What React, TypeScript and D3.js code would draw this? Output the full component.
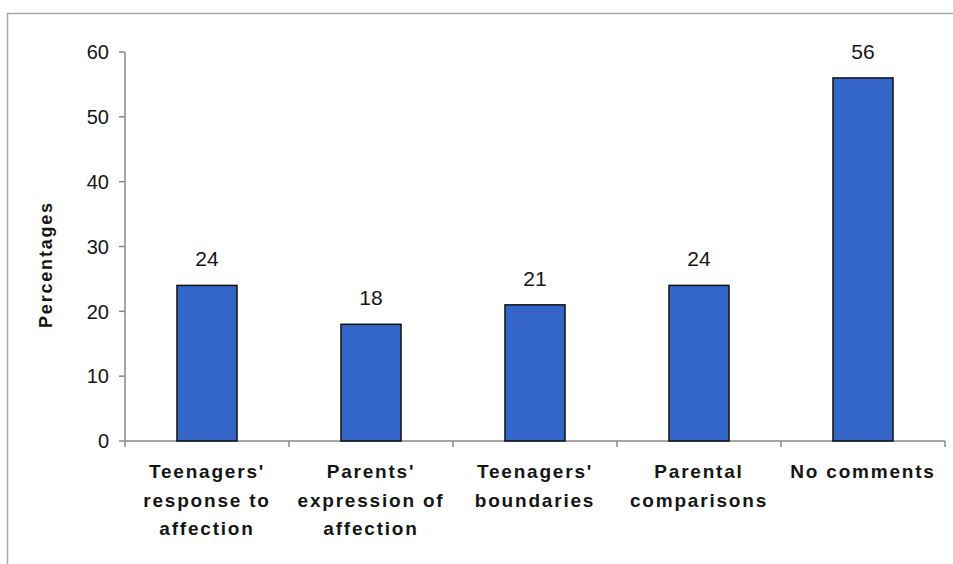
import React from 'react';
import * as d3 from 'd3';

const categories = [
  ["Teenagers'", 'response to', 'affection'],
  ["Parents'", 'expression of', 'affection'],
  ["Teenagers'", 'boundaries'],
  ['Parental', 'comparisons'],
  ['No comments'],
];
const values = [24, 18, 21, 24, 56];
const yTicks = [0, 10, 20, 30, 40, 50, 60];

const W = 953;
const H = 564;
const margin = { top: 52, right: 8, bottom: 123, left: 125 };

export default function App() {
  const keys = categories.map((c) => c.join(' '));
  const x = d3
    .scaleBand()
    .domain(keys)
    .range([margin.left, W - margin.right]);
  const y = d3
    .scaleLinear()
    .domain([0, 60])
    .range([H - margin.bottom, margin.top]);

  const barW = x.bandwidth() * 0.366;
  const y0 = y(0);
  const font = 'Arial, "Liberation Sans", sans-serif';

  return (
    <svg
      width={W}
      height={H}
      style={{ position: 'absolute', left: 0, top: 0, background: '#fff' }}
      fontFamily={font}
    >
      {/* outer frame */}
      <path d={`M7.5,${H} V13.5 H${W}`} fill="none" stroke="#a8a8a8" strokeWidth={1.5} />

      {/* y axis */}
      <line x1={margin.left} x2={margin.left} y1={y(60)} y2={y0} stroke="#888" strokeWidth={1.5} />
      {yTicks.map((t) => (
        <g key={t}>
          <line x1={margin.left - 6} x2={margin.left} y1={y(t)} y2={y(t)} stroke="#888" strokeWidth={1.5} />
          <text x={109} y={y(t)} dy="0.36em" textAnchor="end" fontSize={20} fill="#151515">
            {t}
          </text>
        </g>
      ))}

      {/* x axis */}
      <line x1={margin.left} x2={W - margin.right} y1={y0} y2={y0} stroke="#888" strokeWidth={1.5} />
      {keys.map((k) => (
        <line key={k} x1={x(k)} x2={x(k)} y1={y0} y2={y0 + 6} stroke="#888" strokeWidth={1.5} />
      ))}
      <line x1={W - margin.right} x2={W - margin.right} y1={y0} y2={y0 + 6} stroke="#888" strokeWidth={1.5} />

      {/* bars */}
      {values.map((v, i) => {
        const cx = (x(keys[i]) as number) + x.bandwidth() / 2;
        return (
          <g key={i}>
            <rect
              x={cx - barW / 2}
              y={y(v)}
              width={barW}
              height={y0 - y(v)}
              fill="#3366c8"
              stroke="#111"
              strokeWidth={1.5}
            />
            <text x={cx} y={y(v) - 19} textAnchor="middle" fontSize={21} fill="#151515">
              {v}
            </text>
          </g>
        );
      })}

      {/* category labels */}
      {categories.map((lines, i) => {
        const cx = (x(keys[i]) as number) + x.bandwidth() / 2;
        return (
          <text
            key={i}
            x={cx}
            y={478}
            textAnchor="middle"
            fontSize={19}
            fontWeight="bold"
            letterSpacing={1.8}
            fill="#151515"
          >
            {lines.map((l, j) => (
              <tspan key={j} x={cx} y={478 + j * 28.5}>
                {l}
              </tspan>
            ))}
          </text>
        );
      })}

      {/* y title */}
      <text
        transform={`translate(52,${(y(60) + y0) / 2 + 18}) rotate(-90)`}
        textAnchor="middle"
        fontSize={18}
        fontWeight="bold"
        letterSpacing={1.8}
        fill="#151515"
      >
        Percentages
      </text>
    </svg>
  );
}
